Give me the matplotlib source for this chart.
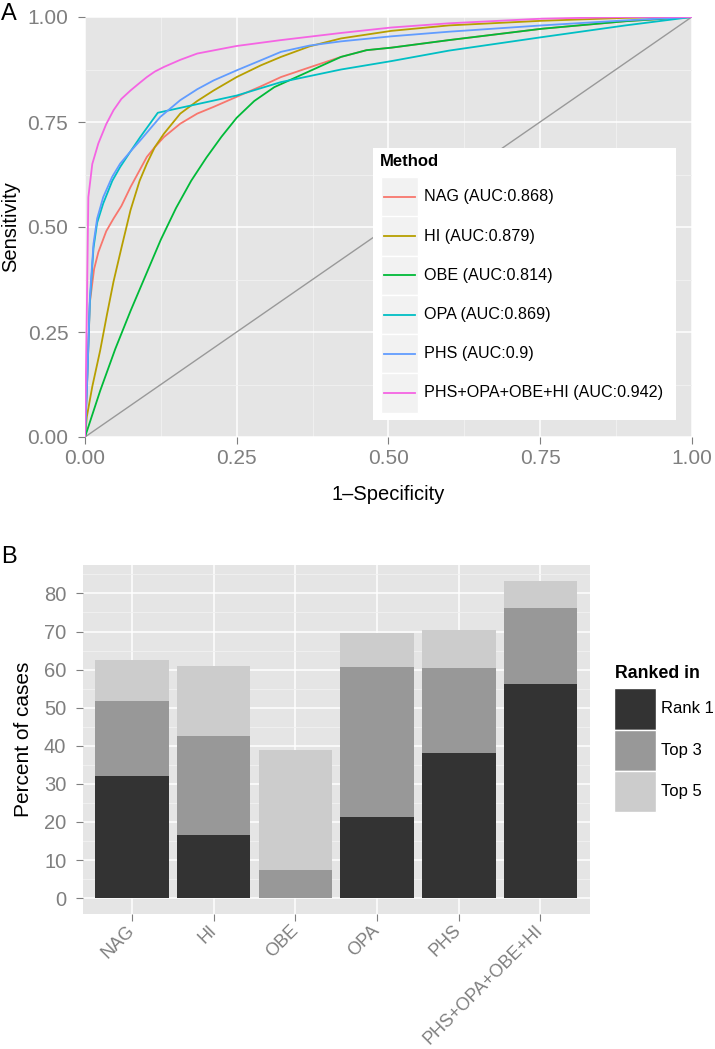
import numpy as np
import matplotlib as mpl
mpl.use('Agg')
import matplotlib.pyplot as plt
from matplotlib.patches import Rectangle
from matplotlib.lines import Line2D

mpl.rcParams['font.family'] = ['Liberation Sans', 'DejaVu Sans']

# ---- Panel A: ROC curves ----
methods = ['NAG', 'HI', 'OBE', 'OPA', 'PHS', 'PHS+OPA+OBE+HI']
auc = ['0.868', '0.879', '0.814', '0.869', '0.9', '0.942']
colors = ['#F8766D', '#B79F00', '#00BA38', '#00BFC4', '#619CFF', '#F564E3']

nag_fpr = [0, 0.004, 0.008, 0.015, 0.022, 0.035, 0.047, 0.06, 0.075, 0.09, 0.102, 0.115, 0.13,
           0.157, 0.185, 0.212, 0.25, 0.29, 0.323, 0.37, 0.422, 0.464, 0.505, 0.6, 0.753, 0.891, 1]
nag_tpr = [0, 0.15, 0.32, 0.40, 0.44, 0.49, 0.52, 0.55, 0.595, 0.635, 0.667, 0.69, 0.714,
           0.746, 0.77, 0.786, 0.81, 0.835, 0.857, 0.88, 0.905, 0.921, 0.927, 0.945, 0.972, 0.99, 1]

hi_fpr = [0, 0.003, 0.012, 0.025, 0.036, 0.047, 0.06, 0.075, 0.09, 0.102, 0.115, 0.13, 0.157,
          0.185, 0.212, 0.25, 0.29, 0.323, 0.37, 0.422, 0.505, 0.6, 0.753, 0.891, 1]
hi_tpr = [0, 0.048, 0.12, 0.206, 0.29, 0.37, 0.45, 0.54, 0.61, 0.651, 0.69, 0.722, 0.77,
          0.80, 0.825, 0.857, 0.885, 0.905, 0.93, 0.949, 0.967, 0.98, 0.991, 0.998, 1]

obe_fpr = [0, 0.025, 0.05, 0.075, 0.1, 0.125, 0.15, 0.175, 0.2, 0.225, 0.25, 0.279, 0.312,
           0.367, 0.422, 0.464, 0.505, 0.6, 0.753, 0.891, 1]
obe_tpr = [0, 0.11, 0.21, 0.30, 0.385, 0.47, 0.545, 0.61, 0.665, 0.715, 0.76, 0.80, 0.833,
           0.869, 0.905, 0.921, 0.927, 0.945, 0.972, 0.99, 1]

opa_fpr = [0, 0.004, 0.008, 0.014, 0.02, 0.03, 0.045, 0.058, 0.075, 0.091, 0.108, 0.12, 0.25,
           0.323, 0.422, 0.505, 0.6, 0.753, 0.891, 1]
opa_tpr = [0, 0.15, 0.32, 0.45, 0.51, 0.556, 0.61, 0.643, 0.68, 0.714, 0.748, 0.772, 0.813,
           0.845, 0.875, 0.895, 0.92, 0.952, 0.98, 1]

phs_fpr = [0, 0.004, 0.008, 0.014, 0.02, 0.03, 0.045, 0.058, 0.075, 0.091, 0.108, 0.124, 0.157,
           0.185, 0.212, 0.25, 0.29, 0.323, 0.37, 0.422, 0.505, 0.6, 0.753, 0.891, 1]
phs_tpr = [0, 0.15, 0.33, 0.46, 0.52, 0.571, 0.62, 0.651, 0.68, 0.706, 0.735, 0.762, 0.802,
           0.828, 0.849, 0.873, 0.897, 0.917, 0.932, 0.942, 0.954, 0.965, 0.98, 0.992, 1]

comb_fpr = [0, 0.003, 0.0055, 0.012, 0.022, 0.035, 0.047, 0.06, 0.075, 0.09, 0.102, 0.115, 0.13,
            0.157, 0.185, 0.25, 0.323, 0.422, 0.505, 0.6, 0.753, 0.891, 1]
comb_tpr = [0, 0.3, 0.571, 0.65, 0.699, 0.745, 0.778, 0.805, 0.825, 0.843, 0.857, 0.87, 0.881,
            0.898, 0.913, 0.931, 0.945, 0.962, 0.975, 0.985, 0.996, 1, 1]

diag = [0, 1]
roc_ticks = [0, 0.25, 0.5, 0.75, 1.0]
roc_labels = ['0.00', '0.25', '0.50', '0.75', '1.00']

# ---- Panel B: stacked ranks (cumulative percent) ----
cats = ['NAG', 'HI', 'OBE', 'OPA', 'PHS', 'PHS+OPA+OBE+HI']
rank1 = [32.0, 16.5, 0.0, 21.2, 38.2, 56.3]
top3 = [51.8, 42.7, 7.3, 60.7, 60.5, 76.2]
top5 = [62.6, 60.9, 39.0, 69.5, 70.3, 83.3]
rank_names = ['Rank 1', 'Top 3', 'Top 5']
greys = ['#333333', '#989898', '#CCCCCC']

W, H = 715, 1049
fig = plt.figure(figsize=(W / 100, H / 100), dpi=100)
tick_col = '#7F7F7F'


def fx(x):
    return x / W


def fy(y):
    return 1 - y / H


def style(ax, size):
    ax.set_facecolor('#E5E5E5')
    for s in ax.spines.values():
        s.set_visible(False)
    ax.grid(True, which='major', color='white', lw=1.1)
    ax.grid(True, which='minor', color='#F2F2F2', lw=0.6)
    ax.set_axisbelow(True)
    ax.tick_params(which='major', length=5, width=0.8, color=tick_col, labelcolor=tick_col,
                   labelsize=size)
    ax.tick_params(which='minor', length=0)


# Panel A
ax1 = fig.add_axes([fx(85), fy(437), fx(606.7), 420 / H])
style(ax1, 15)
ax1.plot(diag, diag, color='#999999', lw=1)
curves = [(nag_fpr, nag_tpr), (hi_fpr, hi_tpr), (obe_fpr, obe_tpr),
          (opa_fpr, opa_tpr), (phs_fpr, phs_tpr), (comb_fpr, comb_tpr)]
for (f, t), c in zip(curves, colors):
    ax1.plot(f, t, color=c, lw=1.3)
ax1.set_xlim(0, 1)
ax1.set_ylim(0, 1)
ax1.set_xticks(roc_ticks)
ax1.set_xticklabels(roc_labels)
ax1.set_yticks(roc_ticks)
ax1.set_yticklabels(roc_labels)
ax1.set_xticks([0.125, 0.375, 0.625, 0.875], minor=True)
ax1.set_yticks([0.125, 0.375, 0.625, 0.875], minor=True)
ax1.tick_params(axis='y', pad=7)
ax1.tick_params(axis='x', pad=4)
ax1.set_xlabel('1\u2013Specificity', fontsize=14.5)
ax1.set_ylabel('Sensitivity', fontsize=14.5)
ax1.xaxis.set_label_coords(0.5, -0.136)
ax1.xaxis.label.set_va('center')
ax1.yaxis.set_label_coords(-0.122, 0.5)
ax1.yaxis.label.set_va('center')

# legend for panel A
fig.patches.append(Rectangle((fx(373), fy(420)), fx(676 - 373), (420 - 148) / H,
                             transform=fig.transFigure, facecolor='white', edgecolor='none'))
fig.text(fx(380), fy(162), 'Method', fontsize=12, fontweight='bold', va='center', ha='left')
row_h = 39.2
for i, (m, a, c) in enumerate(zip(methods, auc, colors)):
    top = 177.3 + i * row_h
    fig.patches.append(Rectangle((fx(381), fy(top + row_h)), fx(418 - 381), row_h / H,
                                 transform=fig.transFigure, facecolor='#F2F2F2',
                                 edgecolor='white', lw=1))
    yc = fy(top + row_h / 2)
    fig.lines.append(Line2D([fx(384), fx(415)], [yc, yc], transform=fig.transFigure,
                            color=c, lw=1.3))
    fig.text(fx(424), yc, '%s (AUC:%s)' % (m, a), fontsize=11.6, va='center', ha='left')

# Panel B
ax2 = fig.add_axes([fx(83), fy(914), fx(506.5), 349 / H])
style(ax2, 14.5)
x = np.arange(len(cats))
r1 = np.array(rank1)
t3 = np.array(top3)
t5 = np.array(top5)
ax2.bar(x, r1, width=0.9, color=greys[0], zorder=2)
ax2.bar(x, t3 - r1, bottom=r1, width=0.9, color=greys[1], zorder=2)
ax2.bar(x, t5 - t3, bottom=t3, width=0.9, color=greys[2], zorder=2)
ax2.set_xlim(-0.6, len(cats) - 0.4)
ax2.set_ylim(-0.05 * max(top5), 1.05 * max(top5))
ax2.set_yticks(range(0, 90, 10))
ax2.set_yticks(range(5, 90, 10), minor=True)
ax2.set_xticks(x)
ax2.set_xticklabels(cats, rotation=45, ha='right', va='center', rotation_mode='anchor',
                    fontsize=13)
ax2.tick_params(axis='x', pad=5)
ax2.tick_params(axis='y', pad=7)
ax2.set_ylabel('Percent of cases', fontsize=15)
ax2.yaxis.set_label_coords(-0.118, 0.5)
ax2.yaxis.label.set_va('center')

# legend for panel B
fig.text(fx(615), fy(673), 'Ranked in', fontsize=12.8, fontweight='bold', va='center', ha='left')
key_h = 41.2
for i, (n, g) in enumerate(zip(rank_names, greys)):
    top = 688.3 + i * key_h
    fig.patches.append(Rectangle((fx(614), fy(top + key_h)), fx(656 - 614), key_h / H,
                                 transform=fig.transFigure, facecolor=g,
                                 edgecolor='white', lw=1))
    fig.text(fx(661), fy(top + key_h / 2), n, fontsize=12, va='center', ha='left')

fig.text(fx(1), fy(14), 'A', fontsize=17, va='center', ha='left')
fig.text(fx(1), fy(557), 'B', fontsize=17, va='center', ha='left')

fig.savefig('out.png', dpi=100)
